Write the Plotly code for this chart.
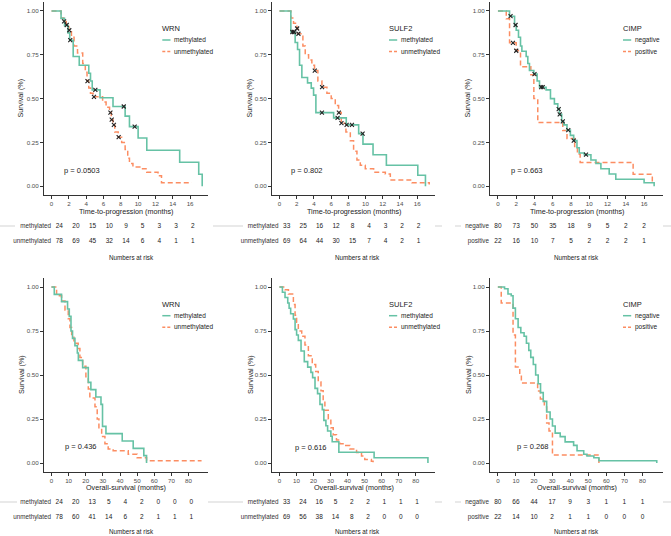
import plotly.graph_objects as go
import bisect

W, H = 671, 536
GREEN = "#66C2A5"
ORANGE = "#FC8D62"
FONT = "Liberation Sans, Arial, sans-serif"

# ---------------- DATA ----------------
# Time-to-progression (months), WRN
wrn_ttp_meth_t = [0, 1.1, 1.5, 1.9, 2.1, 2.5, 3.2, 4.3, 4.5, 4.7, 5.6, 7.1, 8.5, 9.0, 10.0, 11.0, 14.8, 17.0, 17.4]
wrn_ttp_meth_s = [1, 0.958, 0.917, 0.875, 0.833, 0.74, 0.69, 0.645, 0.60, 0.55, 0.505, 0.455, 0.40, 0.34, 0.275, 0.205, 0.137, 0.068, 0.0]
wrn_ttp_meth_cens = [2.16, 5.06, 8.34, 9.6]
wrn_ttp_unm_t = [0, 1.1, 1.4, 1.7, 2.0, 2.3, 2.6, 3.0, 3.6, 3.9, 4.1, 4.3, 4.5, 4.8, 5.9, 6.3, 6.7, 6.9, 7.1, 7.3, 7.7, 8.1, 8.5, 8.8, 9.0, 9.4, 10.2, 11.0, 12.3, 12.7, 16.2]
wrn_ttp_unm_s = [1, 0.96, 0.94, 0.92, 0.89, 0.85, 0.80, 0.76, 0.70, 0.65, 0.60, 0.56, 0.53, 0.51, 0.48, 0.45, 0.42, 0.38, 0.35, 0.31, 0.28, 0.25, 0.21, 0.16, 0.13, 0.11, 0.10, 0.08, 0.06, 0.02, 0.02]
wrn_ttp_unm_cens = [1.45, 1.75, 2.05, 4.15, 4.9, 6.8, 6.95, 7.2, 7.75]

# Time-to-progression, SULF2
sulf_ttp_meth_t = [0, 1.32, 1.82, 2.1, 2.33, 2.6, 3.26, 3.69, 3.96, 4.23, 6.29, 7.76, 9.2, 9.7, 10.87, 12.42, 16.07, 16.96]
sulf_ttp_meth_s = [1, 0.88, 0.82, 0.78, 0.69, 0.62, 0.59, 0.56, 0.52, 0.42, 0.39, 0.35, 0.30, 0.24, 0.18, 0.12, 0.063, 0.0]
sulf_ttp_meth_cens = [1.5, 1.7, 4.93, 6.75, 7.8, 8.42, 9.66]
sulf_ttp_unm_t = [0, 1.32, 1.63, 2.02, 2.13, 2.72, 2.99, 3.38, 3.76, 4.07, 4.46, 4.93, 5.51, 6.01, 6.48, 6.87, 7.18, 7.72, 8.23, 8.61, 9.0, 9.39, 9.97, 10.94, 12.3, 12.88, 15.4, 17.4]
sulf_ttp_unm_s = [1, 0.96, 0.93, 0.90, 0.87, 0.80, 0.75, 0.72, 0.69, 0.66, 0.60, 0.565, 0.53, 0.50, 0.46, 0.42, 0.36, 0.31, 0.26, 0.20, 0.15, 0.12, 0.10, 0.08, 0.07, 0.035, 0.02, 0.01]
sulf_ttp_unm_cens = [2.05, 2.2, 4.1, 4.95, 6.9, 7.2]

# Time-to-progression, CIMP
cimp_ttp_neg_t = [0, 1.27, 1.82, 2.0, 2.25, 2.47, 2.62, 3.09, 3.27, 3.45, 3.93, 4.29, 4.55, 5.27, 5.75, 6.18, 6.55, 6.73, 6.98, 7.2, 7.56, 7.93, 8.29, 8.65, 8.9, 9.45, 10.18, 10.73, 11.27, 12.18, 12.9, 16.0, 17.1]
cimp_ttp_neg_s = [1, 0.97, 0.92, 0.89, 0.85, 0.80, 0.77, 0.74, 0.70, 0.66, 0.64, 0.60, 0.565, 0.55, 0.50, 0.47, 0.44, 0.41, 0.37, 0.35, 0.32, 0.29, 0.26, 0.22, 0.19, 0.18, 0.15, 0.13, 0.10, 0.07, 0.04, 0.02, 0.0]
cimp_ttp_neg_cens = [1.38, 1.93, 4.0, 4.73, 4.9, 6.65, 6.76, 7.1, 7.7, 8.3, 9.64]
cimp_ttp_pos_t = [0, 0.91, 1.27, 2.0, 2.47, 3.6, 3.93, 4.36, 7.1, 7.56, 8.4, 8.7, 9.0, 14.8, 16.9]
cimp_ttp_pos_s = [1, 0.955, 0.818, 0.773, 0.682, 0.636, 0.50, 0.364, 0.318, 0.273, 0.227, 0.182, 0.136, 0.068, 0.02]
cimp_ttp_pos_cens = [1.64, 2.0]

# Overall survival (months), WRN
wrn_os_meth_t = [0, 1.65, 5.9, 9.4, 10.4, 11.4, 12.3, 13.7, 15.1, 15.7, 18.2, 21.5, 23.0, 25.9, 28.9, 29.8, 31.8, 41.3, 47.7, 53.9, 55.5]
wrn_os_meth_s = [1, 0.958, 0.917, 0.875, 0.833, 0.75, 0.708, 0.667, 0.625, 0.583, 0.542, 0.458, 0.417, 0.375, 0.333, 0.208, 0.167, 0.125, 0.083, 0.042, 0.0]
wrn_os_unm_t = [0, 3.0, 5.9, 7.9, 9.8, 10.8, 11.8, 13.1, 15.6, 16.6, 18.2, 20.1, 21.5, 22.4, 25.4, 26.7, 27.7, 29.3, 31.2, 33.1, 36.0, 41.9, 44.8, 50.0, 55.5, 87.6]
wrn_os_unm_s = [1, 0.95, 0.92, 0.87, 0.82, 0.77, 0.73, 0.68, 0.65, 0.60, 0.55, 0.49, 0.42, 0.37, 0.32, 0.25, 0.20, 0.15, 0.11, 0.08, 0.07, 0.07, 0.05, 0.03, 0.013, 0.013]

# Overall survival, SULF2
sulf_os_meth_t = [0, 1.76, 3.3, 4.9, 5.7, 6.6, 8.2, 9.2, 10.1, 11.1, 12.7, 14.6, 16.6, 18.5, 19.5, 20.9, 22.4, 23.8, 25.2, 26.1, 27.3, 28.3, 30.2, 31.0, 34.9, 55.6, 87.2]
sulf_os_meth_s = [1, 0.97, 0.94, 0.909, 0.879, 0.848, 0.818, 0.758, 0.727, 0.697, 0.636, 0.576, 0.545, 0.515, 0.485, 0.424, 0.394, 0.333, 0.303, 0.242, 0.212, 0.182, 0.152, 0.121, 0.061, 0.03, 0.0]
sulf_os_unm_t = [0, 3.3, 5.3, 8.2, 9.2, 10.1, 11.1, 13.1, 15.0, 17.0, 19.3, 21.3, 22.8, 24.4, 25.7, 26.7, 28.7, 30.2, 31.6, 33.5, 35.5, 38.4, 41.4, 45.3, 48.2, 50.1, 54.0, 55.0]
sulf_os_unm_s = [1, 0.985, 0.96, 0.90, 0.84, 0.80, 0.75, 0.72, 0.67, 0.61, 0.56, 0.52, 0.46, 0.41, 0.35, 0.30, 0.25, 0.20, 0.16, 0.13, 0.11, 0.10, 0.08, 0.06, 0.04, 0.02, 0.01, 0.0]

# Overall survival, CIMP
cimp_os_neg_t = [0, 3.7, 5.6, 7.4, 8.4, 9.7, 11.2, 12.7, 14.5, 15.8, 17.1, 18.2, 19.6, 20.9, 22.3, 23.6, 25.1, 27.0, 28.9, 30.2, 31.7, 34.5, 37.2, 41.9, 43.8, 47.5, 49.3, 53.1, 55.9, 87.9]
cimp_os_neg_s = [1, 0.99, 0.96, 0.95, 0.88, 0.82, 0.77, 0.74, 0.72, 0.68, 0.64, 0.60, 0.56, 0.50, 0.45, 0.40, 0.35, 0.29, 0.25, 0.21, 0.17, 0.15, 0.12, 0.10, 0.07, 0.05, 0.04, 0.03, 0.0125, 0.0]
cimp_os_pos_t = [0, 1.86, 8.4, 9.7, 12.1, 13.0, 22.0, 23.5, 25.7, 27.0, 28.3, 30.2, 55.9]
cimp_os_pos_s = [1, 0.909, 0.727, 0.545, 0.50, 0.455, 0.409, 0.364, 0.318, 0.227, 0.182, 0.045, 0.0]

# Numbers at risk
ttp_risk_times = [0, 2, 4, 6, 8, 10, 12, 14, 16]
os_risk_times = [0, 10, 20, 30, 40, 50, 60, 70, 80]
wrn_ttp_risk_meth = [24, 20, 15, 10, 9, 5, 3, 3, 2]
wrn_ttp_risk_unm = [78, 69, 45, 32, 14, 6, 4, 1, 1]
sulf_ttp_risk_meth = [33, 25, 16, 12, 8, 4, 3, 2, 2]
sulf_ttp_risk_unm = [69, 64, 44, 30, 15, 7, 4, 2, 1]
cimp_ttp_risk_neg = [80, 73, 50, 35, 18, 9, 5, 2, 2]
cimp_ttp_risk_pos = [22, 16, 10, 7, 5, 2, 2, 2, 1]
wrn_os_risk_meth = [24, 20, 13, 5, 4, 2, 0, 0, 0]
wrn_os_risk_unm = [78, 60, 41, 14, 6, 2, 1, 1, 1]
sulf_os_risk_meth = [33, 24, 16, 5, 2, 2, 1, 1, 1]
sulf_os_risk_unm = [69, 56, 38, 14, 8, 2, 0, 0, 0]
cimp_os_risk_neg = [80, 66, 44, 17, 9, 3, 1, 1, 1]
cimp_os_risk_pos = [22, 14, 10, 2, 1, 1, 0, 0, 0]

p_values = ["p = 0.0503", "p = 0.802", "p = 0.663", "p = 0.436", "p = 0.616", "p = 0.268"]
markers = ["WRN", "SULF2", "CIMP", "WRN", "SULF2", "CIMP"]
group_labels = [["methylated", "unmethylated"]] * 2 + [["negative", "positive"]] + \
               [["methylated", "unmethylated"]] * 2 + [["negative", "positive"]]
x_titles = ["Time-to-progression (months)"] * 3 + ["Overall-survival (months)"] * 3
y_ticks = [0, 0.25, 0.5, 0.75, 1.0]
y_ticktext = ["0.00", "0.25", "0.50", "0.75", "1.00"]

curves = [
    (wrn_ttp_meth_t, wrn_ttp_meth_s, wrn_ttp_meth_cens, wrn_ttp_unm_t, wrn_ttp_unm_s, wrn_ttp_unm_cens),
    (sulf_ttp_meth_t, sulf_ttp_meth_s, sulf_ttp_meth_cens, sulf_ttp_unm_t, sulf_ttp_unm_s, sulf_ttp_unm_cens),
    (cimp_ttp_neg_t, cimp_ttp_neg_s, cimp_ttp_neg_cens, cimp_ttp_pos_t, cimp_ttp_pos_s, cimp_ttp_pos_cens),
    (wrn_os_meth_t, wrn_os_meth_s, [], wrn_os_unm_t, wrn_os_unm_s, []),
    (sulf_os_meth_t, sulf_os_meth_s, [], sulf_os_unm_t, sulf_os_unm_s, []),
    (cimp_os_neg_t, cimp_os_neg_s, [], cimp_os_pos_t, cimp_os_pos_s, []),
]
risks = [
    (wrn_ttp_risk_meth, wrn_ttp_risk_unm), (sulf_ttp_risk_meth, sulf_ttp_risk_unm),
    (cimp_ttp_risk_neg, cimp_ttp_risk_pos), (wrn_os_risk_meth, wrn_os_risk_unm),
    (sulf_os_risk_meth, sulf_os_risk_unm), (cimp_os_risk_neg, cimp_os_risk_pos),
]

# ---------------- LAYOUT GEOMETRY (pixels) ----------------
def fx(p):
    return p / W

def fy(p):
    return 1 - p / H

main_x_px = [(44, 208), (272, 435), (490, 663)]
risk_x_px = [(52, 210), (279.5, 435.5), (490, 663)]
main_y_px = [(2.2, 195.0), (278.2, 471.8)]
risk_y_px = [(218.5, 248.5), (494.5, 524.5)]
x_ranges = [[-0.87, 18.07], [-4.35, 91.35]]
xtitle_y = [212, 487.5]
nar_y = [257, 531]
ytitle_x = [21, 250, 468]
legend_title_x = [160, 386.7, 620.7]
legend_rows = [(28.5, 40, 51.5), (304, 315.7, 327.3)]
pval_pos = [(1.16, 0.09), (1.16, 0.09), (1.2, 0.09), (6.9, 0.093), (8.2, 0.09), (9.3, 0.093)]
faint_lines = {0: [(0, 15), (213, 243), (435, 442), (455, 461), (663, 671)],
               1: [(0, 17), (208, 243), (435, 442), (455, 461), (663, 671)]}
risk_row_y = [226, 502]


def step_at(ts, ss, t):
    i = bisect.bisect_right(ts, t) - 1
    return ss[max(i, 0)]


fig = go.Figure()
layout = dict(width=W, height=H, margin=dict(l=0, r=0, t=0, b=0, autoexpand=False),
              paper_bgcolor="white", plot_bgcolor="white",
              font=dict(family=FONT, color="#222"), showlegend=False)
annotations = []
shapes = []

for i in range(6):
    row, col = divmod(i, 3)
    k = i + 1
    r = i + 7
    mx0, mx1 = main_x_px[col]
    my0, my1 = main_y_px[row]
    rx0, rx1 = risk_x_px[col]
    ry0, ry1 = risk_y_px[row]
    xr = x_ranges[row]
    tick_vals = ttp_risk_times if row == 0 else os_risk_times

    axis_common = dict(showgrid=False, zeroline=False, showline=True, linecolor="#333",
                       linewidth=1, ticks="outside", ticklen=3, tickwidth=1, tickcolor="#333",
                       automargin=False,
                       tickfont=dict(size=6.2, color="#4d4d4d", family=FONT))
    layout[f"xaxis{k}"] = dict(domain=[fx(mx0), fx(mx1)], range=xr, anchor=f"y{k}",
                               tickvals=tick_vals, ticktext=[str(v) for v in tick_vals], **axis_common)
    layout[f"yaxis{k}"] = dict(domain=[fy(my1), fy(my0)], range=[-0.05, 1.05], anchor=f"x{k}",
                               tickvals=y_ticks, ticktext=y_ticktext, **axis_common)
    layout[f"xaxis{r}"] = dict(domain=[fx(rx0), fx(rx1)], range=xr, anchor=f"y{r}", visible=False,
                               automargin=False)
    g1, g2 = group_labels[i]
    layout[f"yaxis{r}"] = dict(domain=[fy(ry1), fy(ry0)], range=[-0.5, 1.5], anchor=f"x{r}",
                               showgrid=False, zeroline=False, showline=False, ticks="",
                               automargin=False,
                               tickvals=[1, 0], ticktext=[g1, g2],
                               tickfont=dict(size=6.3, color="#333", family=FONT))

    t1, s1, c1, t2, s2, c2 = curves[i]
    fig.add_trace(go.Scatter(x=t2, y=s2, mode="lines", line=dict(color=ORANGE, width=1.5, dash="5px,3px", shape="hv"),
                             xaxis=f"x{k}", yaxis=f"y{k}", hoverinfo="skip"))
    fig.add_trace(go.Scatter(x=t1, y=s1, mode="lines", line=dict(color=GREEN, width=1.6, shape="hv"),
                             xaxis=f"x{k}", yaxis=f"y{k}", hoverinfo="skip"))
    cx = list(c1) + list(c2)
    cy = [step_at(t1, s1, t) for t in c1] + [step_at(t2, s2, t) for t in c2]
    if cx:
        fig.add_trace(go.Scatter(x=cx, y=cy, mode="markers",
                                 marker=dict(symbol="x-thin", size=4, line=dict(width=1.1, color="#222")),
                                 xaxis=f"x{k}", yaxis=f"y{k}", hoverinfo="skip"))

    # risk table
    ra, rb = risks[i]
    fig.add_trace(go.Scatter(x=tick_vals, y=[1] * len(ra), mode="text", text=[str(v) for v in ra],
                             textfont=dict(size=6.5, color="#222", family=FONT),
                             xaxis=f"x{r}", yaxis=f"y{r}", hoverinfo="skip"))
    fig.add_trace(go.Scatter(x=tick_vals, y=[0] * len(rb), mode="text", text=[str(v) for v in rb],
                             textfont=dict(size=6.5, color="#222", family=FONT),
                             xaxis=f"x{r}", yaxis=f"y{r}", hoverinfo="skip"))

    # p-value
    px_, py_ = pval_pos[i]
    annotations.append(dict(x=px_, y=py_, xref=f"x{k}", yref=f"y{k}", text=p_values[i],
                            showarrow=False, xanchor="left", yanchor="middle",
                            font=dict(size=7.5, color="#222", family=FONT)))
    # axis titles
    annotations.append(dict(x=fx((mx0 + mx1) / 2), y=fy(xtitle_y[row]), xref="paper", yref="paper",
                            text=x_titles[i], showarrow=False, xanchor="center", yanchor="middle",
                            font=dict(size=7.2, color="#222", family=FONT)))
    annotations.append(dict(x=fx(ytitle_x[col]), y=fy((my0 + my1) / 2), xref="paper", yref="paper",
                            text="Survival (%)", textangle=-90, showarrow=False,
                            xanchor="center", yanchor="middle",
                            font=dict(size=7.2, color="#222", family=FONT)))
    annotations.append(dict(x=fx((rx0 + rx1) / 2), y=fy(nar_y[row]), xref="paper", yref="paper",
                            text="Numbers at risk", showarrow=False, xanchor="center", yanchor="middle",
                            font=dict(size=6.3, color="#222", family=FONT)))
    # legend
    lt, l1, l2 = legend_rows[row]
    lx = legend_title_x[col]
    annotations.append(dict(x=fx(lx), y=fy(lt), xref="paper", yref="paper", text=markers[i],
                            showarrow=False, xanchor="left", yanchor="middle",
                            font=dict(size=7.5, color="#222", family=FONT)))
    for yy, lab, colr, dash in [(l1, g1, GREEN, "solid"), (l2, g2, ORANGE, "3px,2px")]:
        shapes.append(dict(type="line", xref="paper", yref="paper", x0=fx(lx + 2.3), x1=fx(lx + 10.5),
                           y0=fy(yy), y1=fy(yy), line=dict(color=colr, width=1.5, dash=dash)))
        annotations.append(dict(x=fx(lx + 12.3), y=fy(yy), xref="paper", yref="paper", text=lab,
                                showarrow=False, xanchor="left", yanchor="middle",
                                font=dict(size=6.5, color="#222", family=FONT)))

for row in (0, 1):
    for a, b in faint_lines[row]:
        shapes.append(dict(type="line", xref="paper", yref="paper", x0=fx(a), x1=fx(b),
                           y0=fy(risk_row_y[row]), y1=fy(risk_row_y[row]),
                           line=dict(color="#e2e2e2", width=1.5)))

layout["annotations"] = annotations
layout["shapes"] = shapes
fig.update_layout(**layout)
fig.write_html("out.html", config={"displayModeBar": False},
               post_script="document.body.style.margin='0';document.body.style.padding='0';document.body.style.overflow='hidden';")
